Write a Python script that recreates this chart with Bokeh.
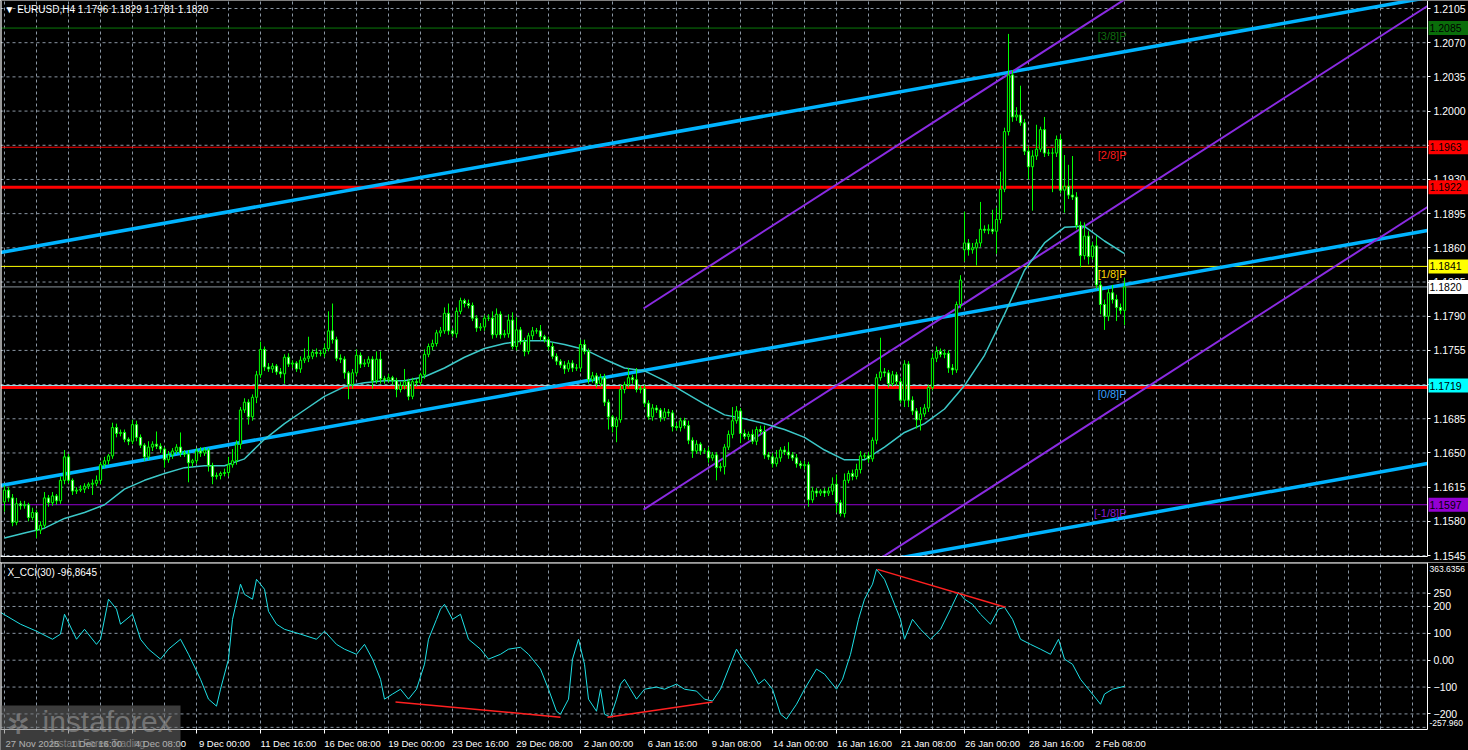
from bokeh.plotting import figure
from bokeh.layouts import column
from bokeh.models import ColumnDataSource, FixedTicker, Label, Range1d, LinearAxis, BoxAnnotation
from bokeh.embed import file_html
from bokeh.resources import INLINE

# ---------------- data ----------------
closes = [
 1.1612,1.1604,1.1579,1.1598,1.1596,1.1597,1.1584,1.1589,1.1571,1.1576,
 1.1604,1.1599,1.1606,1.1601,1.1622,1.1646,1.1622,1.1611,1.1612,1.1613,
 1.1616,1.1618,1.1619,1.1622,1.1638,1.1642,1.1647,1.1676,1.1670,1.1671,
 1.1664,1.1662,1.1679,1.1666,1.1658,1.1646,1.1656,1.1659,1.1657,1.1654,
 1.1643,1.1648,1.1652,1.1656,1.1650,1.1649,1.1640,1.1642,1.1652,1.1650,
 1.1653,1.1637,1.1626,1.1627,1.1629,1.1630,1.1638,1.1642,1.1659,1.1694,
 1.1702,1.1687,1.1707,1.1730,1.1756,1.1738,1.1736,1.1739,1.1733,1.1731,
 1.1748,1.1741,1.1742,1.1736,1.1745,1.1747,1.1749,1.1753,1.1752,1.1752,
 1.1757,1.1775,1.1766,1.1747,1.1746,1.1732,1.1720,1.1732,1.1750,1.1741,
 1.1742,1.1746,1.1724,1.1746,1.1726,1.1725,1.1727,1.1724,1.1715,1.1719,
 1.1723,1.1708,1.1723,1.1722,1.1730,1.1751,1.1759,1.1762,1.1773,1.1775,
 1.1793,1.1775,1.1772,1.1795,1.1806,1.1803,1.1801,1.1788,1.1778,1.1779,
 1.1788,1.1788,1.1771,1.1792,1.1771,1.1772,1.1786,1.1759,1.1776,1.1764,
 1.1754,1.1770,1.1775,1.1775,1.1769,1.1766,1.1759,1.1749,1.1744,1.1740,
 1.1736,1.1742,1.1737,1.1737,1.1761,1.1754,1.1725,1.1729,1.1721,1.1727,
 1.1702,1.1687,1.1677,1.1684,1.1715,1.1720,1.1727,1.1725,1.1715,1.1716,
 1.1701,1.1687,1.1696,1.1694,1.1686,1.1692,1.1691,1.1677,1.1676,1.1683,
 1.1678,1.1663,1.1652,1.1659,1.1652,1.1652,1.1645,1.1648,1.1635,1.1636,
 1.1656,1.1669,1.1683,1.1693,1.1670,1.1667,1.1669,1.1662,1.1674,1.1672,
 1.1648,1.1646,1.1639,1.1645,1.1653,1.1651,1.1648,1.1645,1.1639,1.1637,
 1.1638,1.1602,1.1611,1.1609,1.1611,1.1609,1.1611,1.1618,1.1599,1.1588,
 1.1622,1.1629,1.1626,1.1633,1.1647,1.1647,1.1644,1.1663,1.1727,1.1733,
 1.1732,1.1721,1.1730,1.1723,1.1704,1.1741,1.1704,1.1693,1.1684,1.1690,
 1.1696,1.1717,1.1747,1.1754,1.1751,1.1752,1.1737,1.1735,1.1802,1.1827,
 1.1865,1.1858,1.1860,1.1865,1.1879,1.1878,1.1879,1.1877,1.1889,1.1920,
 1.1979,1.2037,1.1994,1.1996,1.1988,1.1959,1.1943,1.1954,1.1961,1.1981,
 1.1957,1.1957,1.1957,1.1971,1.1919,1.1923,1.1914,1.1912,1.1883,1.1852,
 1.1872,1.1851,1.1862,1.1822,1.1802,1.1790,1.1814,1.1807,1.1799,1.1796,
 1.1820]
first_open = 1.1600
gap_opens = {240: 1.1858}
# wick lengths in pips
wick_up = [
 5,3,4,6,3,4,2,5,3,4, 6,3,4,2,4,7,3,2,3,4, 3,2,4,5,3,4,2,5,4,3, 3,2,5,4,3,2,6,3,13,3,
 2,4,3,3,15,3,4,2,3,4, 3,2,3,3,2,4,8,12,4,3, 4,3,3,4,8,3,4,3,2,4, 3,4,3,2,4,10,20,3,4,3,
 5,20,28,3,4,3,2,4,6,3, 4,3,3,8,8,3,4,2,3,4, 13,3,4,3,2,5,3,4,3,4, 6,10,3,4,3,2,4,3,3,4,
 3,4,7,6,3,4,6,8,13,3, 4,3,4,3,6,2,3,4,3,2, 4,3,3,4,5,5,3,4,3,4, 4,3,2,3,5,3,10,3,12,3,
 4,3,4,3,2,4,3,3,4,3, 3,5,3,4,2,3,4,3,3,4, 3,4,14,5,3,4,3,5,3,4, 6,3,4,8,3,4,10,3,4,3,
 4,3,4,3,2,3,4,7,10,3, 7,3,4,6,5,3,4,3,4,35, 4,3,4,3,4,4,3,4,3,7, 4,3,5,5,3,4,3,4,3,5,
 32,4,5,4,28,4,5,20,12,18, 4,42,5,8,30,4,5,6,25,3, 13,4,5,4,5,32,22,40,5,4, 14,5,4,10,4,5,4,8,5,4,
 9]
wick_dn = [
 10,4,4,3,4,3,4,3,8,4, 3,4,3,4,3,4,3,4,3,2, 4,3,11,3,4,3,4,3,4,3, 3,4,3,4,3,4,3,4,3,4,
 8,3,4,3,4,3,20,4,3,4, 3,6,8,3,4,3,4,3,4,5, 3,8,4,6,3,4,3,4,3,4, 10,3,4,3,4,3,4,3,4,3,
 4,3,4,3,4,6,15,4,3,4, 3,4,8,3,5,4,3,4,8,3, 4,4,3,4,3,4,3,4,3,4, 3,4,3,4,3,4,3,3,4,3,
 4,3,4,3,4,3,4,3,4,3, 5,3,4,3,4,3,4,3,4,3, 5,3,4,3,4,3,4,3,4,3, 4,13,6,16,3,4,3,4,3,4,
 4,3,4,3,4,3,4,5,3,4, 3,4,7,3,4,3,5,3,13,4, 8,3,4,3,10,3,4,3,4,3, 4,3,4,3,4,3,4,3,4,3,
 4,7,3,4,3,4,3,4,10,3, 4,3,4,3,4,3,4,3,4,3, 4,4,3,4,3,7,7,4,9,11, 3,4,3,4,3,4,5,5,3,4,
 12,6,4,18,4,3,4,3,23,4, 3,4,5,4,3,4,13,45,4,3, 4,3,40,4,3,23,4,3,4,12, 4,8,3,4,10,14,5,4,14,4,
 15]

# moving average
ma_bars = list(range(0, 281, 5))
ma_vals = [1.1563,1.1568,1.1573,1.1583,1.1589,1.1597,1.1613,1.1622,1.1629,1.1635,
           1.1637,1.1637,1.1644,1.1664,1.1680,1.1694,1.1708,1.1718,1.1722,
           1.1724,1.1724,1.1728,1.1737,1.1748,1.1757,1.1762,1.1765,1.1765,1.1761,
           1.1756,1.1746,1.1737,1.1734,1.1724,1.1712,1.1700,1.1689,1.1685,1.1680,
           1.1674,1.1666,1.1653,1.1643,1.1643,1.1656,1.1671,1.1680,1.1695,1.1719,
           1.1750,1.1792,1.1837,1.1865,1.1881,1.1882,1.1867,1.1854]

# CCI(30)
cci_bars = [-1,4,8,12,14,15,18,20,23,24,26,28,29,32,34,36,39,41,44,46,49,51,53,54,56,57,59,60,62,63,
            65,66,68,70,74,78,80,83,85,88,90,92,94,95,97,99,101,103,105,106,108,109,110,112,114,116,119,121,124,126,
            129,131,134,136,138,139,141,142,143.5,145,146,148,149,150,151.5,153,154,155,158,160,163,165,168,170,173,175,177,179,181,183,
            184.5,186.5,188.5,190,192,194,195.5,198,200,203,205,208,209.5,211.5,213.5,215,217,218,220,222,224,225,227,229,231.5,234,236.5,238.5,240,242,
            244,246.5,248.5,250,252,254,256.5,259,261.5,263.5,265,267,269,271,273,274,275,277,280]
cci_vals = [178,134,108,78,97,171,78,115,59,78,227,190,134,171,78,41,4,41,78,22,-71,-145,-171,-108,4,152,283,245,227,301,
            264,182,134,115,97,78,108,59,41,22,59,4,-71,-145,-126,-108,-145,-108,-15,78,152,190,208,152,171,78,41,4,22,41,
            48,22,-33,-108,-190,-201,-145,4,78,-15,-145,-190,-108,-201,-212,-145,-89,-71,-145,-108,-100,-108,-89,-108,-115,-145,-152,-108,-33,41,
            4,-33,-89,-71,-108,-201,-219,-164,-108,-33,-52,-108,-71,22,152,227,283,338,301,227,152,78,152,115,78,115,190,253,227,208,
            171,134,190,197,152,78,59,41,22,78,4,-15,-71,-108,-145,-164,-126,-108,-97]
cci_div_x = [[97.75, 139.0], [150.75, 177.0], [218.25, 250.25]]
cci_div_y = [[-156, -212], [-212, -156], [338, 197]]
cci_max, cci_min = 363.6356, -257.96

# x-axis labels (bar index -> text)
tick_bars = list(range(0, 273, 16))
tick_texts = ["27 Nov 2025", "1 Dec 16:00", "4 Dec 08:00", "9 Dec 00:00", "11 Dec 16:00", "16 Dec 08:00",
              "19 Dec 00:00", "23 Dec 16:00", "29 Dec 08:00", "2 Jan 00:00", "6 Jan 16:00", "9 Jan 08:00",
              "14 Jan 00:00", "16 Jan 16:00", "21 Jan 08:00", "26 Jan 00:00", "28 Jan 16:00", "2 Feb 08:00"]
price_ticks = [1.1545, 1.1580, 1.1615, 1.1650, 1.1685, 1.1720, 1.1755, 1.1790, 1.1825, 1.1860,
               1.1895, 1.1930, 1.1965, 1.2000, 1.2035, 1.2070, 1.2105]
cci_ticks = [250, 200, 100, 0, -100, -200]
cci_grid = [250, 200, 100, 0, -100, -200, -250]

# Murrey levels
murrey_levels = [1.2085, 1.1963, 1.1841, 1.1719, 1.1597]
murrey_names = ["[3/8]P", "[2/8]P", "[1/8]P", "[0/8]P", "[-1/8]P"]
murrey_line_colors = ["#0a7a0a", "#ff0000", "#ffff00", "#9fe8f0", "#9400d3"]
murrey_text_colors = ["#0f6b0f", "#ff1a1a", "#ffd700", "#3aa0ff", "#8a1ad0"]
murrey_box_colors = ["#0a6e0a", "#ff0000", "#ffff00", "#00ffff", "#9400d3"]
sr_levels = [1.1922, 1.1717]
current_price = 1.1820

# channels (bar index, price)
blue_x = [-1.0, 355.75]
blue_mid = [1.16167, 1.18777]
blue_offset = 0.02385
purple_x = [159.75, 355.75]
purple_top = [1.17979, 1.23134]
purple_offset = 0.02058

# ---------------- derived ----------------
opens = [first_open] + closes[:-1]
for k, v in gap_opens.items():
    opens[k] = v
n = len(closes)
bars = list(range(n))
highs = [max(opens[i], closes[i]) + wick_up[i] * 0.0001 for i in range(n)]
lows = [min(opens[i], closes[i]) - wick_dn[i] * 0.0001 for i in range(n)]
fills = ["#000000" if closes[i] >= opens[i] else "#ffffff" for i in range(n)]
src = ColumnDataSource(dict(x=bars, h=highs, l=lows,
                            top=[max(a, b) for a, b in zip(opens, closes)],
                            bot=[min(a, b) for a, b in zip(opens, closes)], fill=fills))

FONT = "Liberation Sans"
GRID = "#8a96a3"
CHART_END = 355.75          # right edge of the chart area (bar units)
XR = (-1.0, 366.0)          # includes the price-scale strip
P_TOP, P_BOT, P_GAP = 1.21132, 1.15440, 1.153788
C_BOT_AXIS = -336.125

def base_fig(h, yr, xr):
    f = figure(width=1468, height=h, x_range=xr, y_range=yr, output_backend="svg",
               toolbar_location=None, title=None, x_axis_location=None, y_axis_location=None,
               min_border=0)
    f.background_fill_color = "black"
    f.border_fill_color = "black"
    f.outline_line_color = None
    f.grid.visible = False
    return f

def right_axis(f, ticks, bounds, overrides):
    ax = LinearAxis(fixed_location=CHART_END, ticker=FixedTicker(ticks=ticks), bounds=bounds)
    ax.axis_line_color = "white"
    ax.major_tick_line_color = "white"
    ax.major_tick_in = 0
    ax.major_tick_out = 3
    ax.minor_tick_line_color = None
    ax.major_label_text_color = "white"
    ax.major_label_text_font = FONT
    ax.major_label_text_font_size = "10.5px"
    ax.major_label_standoff = 3
    ax.major_label_overrides = overrides
    f.add_layout(ax, "right")

def grid(f, y0, y1, yticks):
    vx = list(range(0, 353, 8))
    f.segment(x0=vx, y0=[y0] * len(vx), x1=vx, y1=[y1] * len(vx), line_color=GRID, line_dash="3 3", line_width=1)
    f.segment(x0=[XR[0]] * len(yticks), y0=yticks, x1=[CHART_END] * len(yticks), y1=yticks,
              line_color=GRID, line_dash="3 3", line_width=1)

# ---------------- main panel ----------------
p = base_fig(562, Range1d(P_GAP, P_TOP), Range1d(*XR))
grid(p, P_BOT, P_TOP, price_ticks)

for lv, col in zip(murrey_levels, murrey_line_colors):
    p.line([XR[0], CHART_END], [lv, lv], line_color=col, line_width=1)
for lv in sr_levels:
    p.line([XR[0], CHART_END], [lv, lv], line_color="#ff0000", line_width=3)
p.line([XR[0], CHART_END], [current_price, current_price], line_color="#8a939c", line_width=1)

p.line(blue_x, blue_mid, line_color="#00b4ff", line_width=3.5)
p.line(blue_x, [v + blue_offset for v in blue_mid], line_color="#00b4ff", line_width=3.5)
p.line(blue_x, [v - blue_offset for v in blue_mid], line_color="#00b4ff", line_width=3.5)
for k in range(3):
    p.line(purple_x, [v - k * purple_offset for v in purple_top], line_color="#8a2be2", line_width=2)

p.line(ma_bars, ma_vals, line_color="#3cc8c8", line_width=1.5)

p.segment(x0="x", y0="h", x1="x", y1="l", source=src, line_color="#00ff00", line_width=1)
p.vbar(x="x", width=0.55, top="top", bottom="bot", source=src, fill_color="fill",
       line_color="#00ff00", line_width=1)

# black gap between panels + borders
p.add_layout(BoxAnnotation(left=XR[0], right=CHART_END, bottom=P_GAP, top=P_BOT - 0.00006,
                           fill_color="black", fill_alpha=1.0, line_color=None, level="glyph"))
p.line([XR[0], CHART_END], [P_BOT, P_BOT], line_color="white", line_width=1)
p.line([-0.85, -0.85], [P_BOT, P_TOP], line_color="white", line_width=1)

right_axis(p, price_ticks, (P_BOT, P_TOP), {t: f"{t:.4f}" for t in price_ticks})

for lv, nm, tc in zip(murrey_levels, murrey_names, murrey_text_colors):
    p.add_layout(Label(x=280.5, y=lv, text=nm, text_color=tc, text_font=FONT, text_font_size="11px",
                       text_align="right", text_baseline="top", y_offset=-2))

boxes = [(murrey_levels[0], murrey_box_colors[0]), (murrey_levels[1], murrey_box_colors[1]),
         (sr_levels[0], "#ff0000"), (murrey_levels[2], murrey_box_colors[2]),
         (current_price, "#ffffff"), (murrey_levels[3], murrey_box_colors[3]),
         (murrey_levels[4], murrey_box_colors[4])]
for lv, bc in boxes:
    p.add_layout(Label(x=CHART_END, y=lv, x_offset=1, text=f" {lv:.4f} ", text_color="#000000",
                       text_font=FONT, text_font_size="10.5px", text_baseline="middle",
                       background_fill_color=bc, padding=1))

p.add_layout(Label(x=XR[0], y=P_TOP, x_offset=4, y_offset=-3,
                   text="\u25bc EURUSD,H4  1.1796 1.1829 1.1781 1.1820",
                   text_color="white", text_font=FONT, text_font_size="10px", text_baseline="top"))

# ---------------- CCI panel ----------------
q = base_fig(188, Range1d(C_BOT_AXIS, cci_max), p.x_range)
grid(q, cci_min, cci_max, cci_grid)

q.line(cci_bars, cci_vals, line_color="#1ee0e6", line_width=1)
for xs, ys in zip(cci_div_x, cci_div_y):
    q.line(xs, ys, line_color="#ff2020", line_width=1.5)

q.line([XR[0], CHART_END], [cci_max - 1.9, cci_max - 1.9], line_color="white", line_width=1)
q.line([XR[0], CHART_END], [cci_min, cci_min], line_color="white", line_width=1)
q.line([-0.85, -0.85], [cci_min, cci_max], line_color="white", line_width=1)

right_axis(q, cci_ticks, (cci_min, cci_max), {0: "0.00"})

xa = LinearAxis(fixed_location=cci_min,
                ticker=FixedTicker(ticks=[b + 7 for b in tick_bars], minor_ticks=tick_bars))
xa.axis_line_color = None
xa.major_tick_line_color = None
xa.major_tick_out = 0
xa.major_tick_in = 0
xa.minor_tick_line_color = "white"
xa.minor_tick_in = 0
xa.minor_tick_out = 4
xa.major_label_text_color = "white"
xa.major_label_text_font = FONT
xa.major_label_text_font_size = "9.5px"
xa.major_label_standoff = 5
xa.major_label_overrides = {b + 7: t for b, t in zip(tick_bars, tick_texts)}
q.add_layout(xa, "below")

q.add_layout(Label(x=XR[0], y=cci_max, x_offset=7, y_offset=-4, text="X_CCI(30) -96,8645",
                   text_color="white", text_font=FONT, text_font_size="10px", text_baseline="top"))
q.add_layout(Label(x=CHART_END, y=cci_max, x_offset=2, y_offset=-3, text=f"{cci_max:.4f}", text_color="white",
                   text_font=FONT, text_font_size="8.5px", text_baseline="top"))
q.add_layout(Label(x=CHART_END, y=cci_min, x_offset=2, y_offset=3, text=f"{cci_min:.3f}", text_color="white",
                   text_font=FONT, text_font_size="8.5px", text_baseline="bottom"))

# watermark logo
q.add_layout(BoxAnnotation(left=XR[0], right=44.0, bottom=C_BOT_AXIS, top=-168.6,
                           fill_color="#6e6e6e", fill_alpha=0.55, line_color=None, level="overlay"))
q.add_layout(Label(x=XR[0], y=C_BOT_AXIS, x_offset=42, y_offset=13, text="instaforex",
                   text_color="#d0d0d0", text_alpha=0.6, text_font=FONT, text_font_size="30px",
                   text_baseline="bottom"))
q.add_layout(Label(x=XR[0], y=C_BOT_AXIS, x_offset=50, y_offset=2, text="Instant Forex Trading",
                   text_color="#d8d8d8", text_alpha=0.7, text_font=FONT, text_font_size="10px",
                   text_baseline="bottom"))
q.add_layout(Label(x=XR[0], y=C_BOT_AXIS, x_offset=6, y_offset=10, text="\u2732",
                   text_color="#d0d0d0", text_alpha=0.6, text_font="DejaVu Sans", text_font_size="28px",
                   text_baseline="bottom"))

layout = column(p, q, spacing=0)

open("out.html", "w").write(file_html(layout, INLINE))
